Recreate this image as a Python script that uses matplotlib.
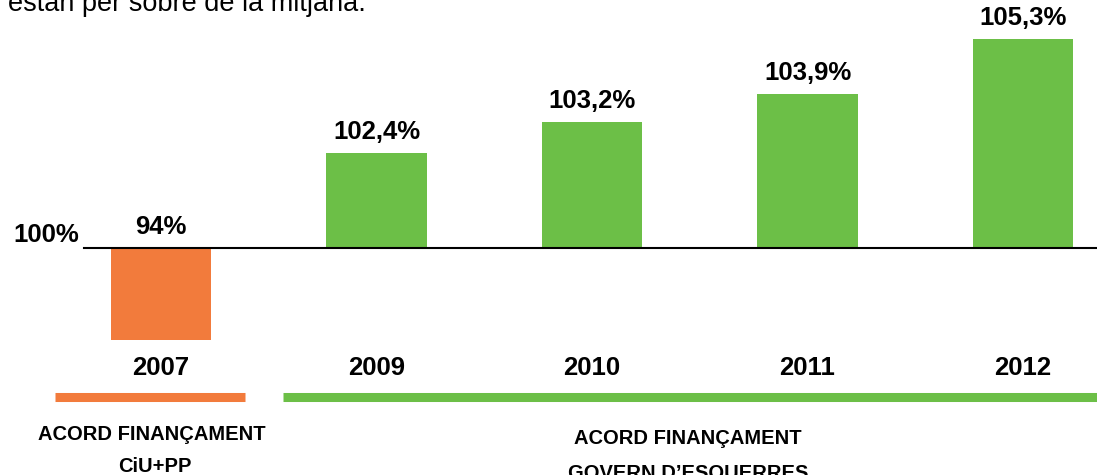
import numpy as np
import matplotlib
matplotlib.use("Agg")
import matplotlib.pyplot as plt

# data
years = ["2007", "2009", "2010", "2011", "2012"]
values = [94.0, 102.4, 103.2, 103.9, 105.3]
value_labels = ["94%", "102,4%", "103,2%", "103,9%", "105,3%"]
groups = ["ACORD FINANÇAMENT\nCiU+PP", "ACORD FINANÇAMENT\nGOVERN D\u2019ESQUERRES"]

ORANGE = "#F27B3C"
GREEN = "#6CBF47"
colors = [ORANGE, GREEN, GREEN, GREEN, GREEN]

plt.rcParams['font.family'] = ['Liberation Sans', 'DejaVu Sans']

fig = plt.figure(figsize=(10.97, 4.75), dpi=100)
ax = fig.add_axes([0, 0, 1, 1])

# the original is not drawn to scale: values below 100 are squeezed
SQUEEZE = 0.388
def fwd(v):
    v = np.asarray(v, dtype=float)
    return np.where(v < 100, 100 + (v - 100) * SQUEEZE, v)
def inv(v):
    v = np.asarray(v, dtype=float)
    return np.where(v < 100, 100 + (v - 100) / SQUEEZE, v)
ax.set_yscale('function', functions=(fwd, inv))

x = np.arange(len(years))
heights = [v - 100 for v in values]
ax.bar(x, heights, bottom=100, width=0.465, color=colors, zorder=2)

ax.set_xlim(-0.747, 4.343)
ax.set_ylim(85.19, 106.28)
ax.axis('off')

# 100% baseline
ax.axhline(100, xmin=84 / 1097, xmax=1, color='black', lw=1.5, zorder=3)
ax.text(-0.38, 100.15, "100%", ha='right', va='baseline', fontsize=18.5,
        fontweight='bold')

# value labels
for xi, v, lab in zip(x, values, value_labels):
    top = max(v, 100)
    ax.annotate(lab, (xi, top), xytext=(0, 14), textcoords='offset pixels',
                ha='center', va='baseline', fontsize=18.5, fontweight='bold')

# year labels
xt = ax.get_xaxis_transform()
for xi, yr in zip(x, years):
    ax.text(xi, 1 - 375 / 475, yr, transform=xt, ha='center', va='baseline',
            fontsize=18.5, fontweight='bold')

# group underlines
ax.plot([-0.492, 0.390], [1 - 397 / 475] * 2, transform=xt, color=ORANGE,
        lw=6.5, solid_capstyle='butt', clip_on=False)
ax.plot([0.566, 4.4], [1 - 397 / 475] * 2, transform=xt, color=GREEN,
        lw=6.5, solid_capstyle='butt', clip_on=False)

# group labels
fig.text(152 / 1097, 1 - 440 / 475, groups[0].split("\n")[0], ha='center',
         va='baseline', fontsize=14.5, fontweight='bold')
fig.text(155 / 1097, 1 - 472 / 475, groups[0].split("\n")[1], ha='center',
         va='baseline', fontsize=14.5, fontweight='bold')
fig.text(688 / 1097, 1 - 444 / 475, groups[1].split("\n")[0], ha='center',
         va='baseline', fontsize=14.5, fontweight='bold')
fig.text(688 / 1097, 1 - 479 / 475, groups[1].split("\n")[1], ha='center',
         va='baseline', fontsize=14.5, fontweight='bold')

# clipped caption at the top
fig.text(8 / 1097, 1 - 11 / 475, "estan per sobre de la mitjana.", ha='left',
         va='baseline', fontsize=19.5)

fig.savefig("out.png", dpi=100)
